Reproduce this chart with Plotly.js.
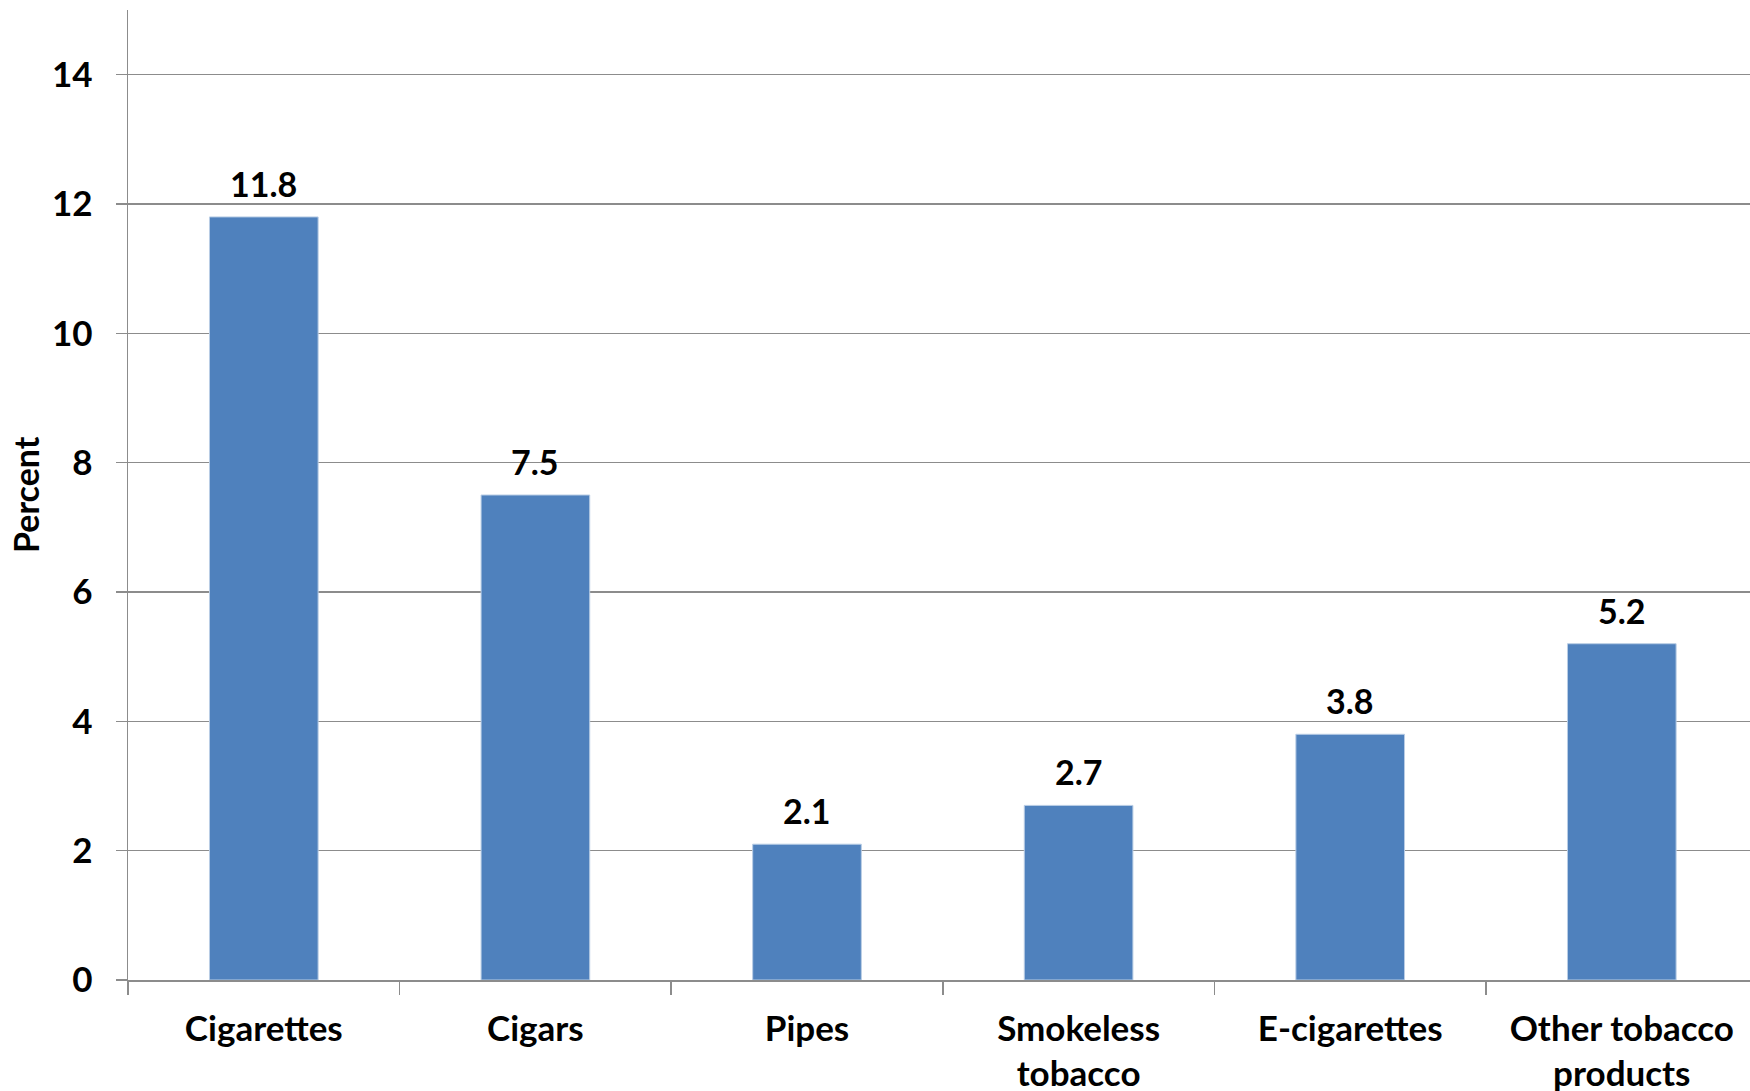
<!DOCTYPE html>
<html>
<head>
<meta charset="utf-8">
<script src="https://cdn.plot.ly/plotly-3.0.1.min.js"></script>
<style>html,body{margin:0;padding:0;background:#fff;}#chart{width:1750px;height:1091px;}</style>
</head>
<body>
<div id="chart"></div>
<script>
const categories = ["Cigarettes", "Cigars", "Pipes", "Smokeless<br>tobacco", "E-cigarettes", "Other tobacco<br>products"];
const percentValues = [11.8, 7.5, 2.1, 2.7, 3.8, 5.2];
const yTickValues = [0, 2, 4, 6, 8, 10, 12, 14];
const yAxisTitle = "Percent";

const FONT = "Lato, 'Open Sans', sans-serif";

const trace = {
  type: "bar",
  x: categories,
  y: percentValues,
  width: 0.4,
  marker: { color: "#4f81bd", line: { color: "#b9cde5", width: 1 } },
  hoverinfo: "none"
};

const annotations = categories.map((c, i) => ({
  x: c, y: percentValues[i], xref: "x", yref: "y",
  text: percentValues[i].toFixed(1),
  showarrow: false, yanchor: "bottom", xanchor: "center", yshift: 11,
  font: { family: FONT, size: 34, color: "#000", weight: 700 }
}));
annotations.push({
  xref: "paper", yref: "paper", x: 0, y: 0.5, xshift: -103,
  text: yAxisTitle, textangle: -90, showarrow: false,
  xanchor: "center", yanchor: "middle",
  font: { family: FONT, size: 34, color: "#000", weight: 700 }
});

const layout = {
  width: 1750, height: 1091,
  margin: { l: 128, r: 0, t: 10, b: 111, pad: 0 },
  paper_bgcolor: "#fff", plot_bgcolor: "#fff",
  showlegend: false,
  font: { family: FONT, color: "#000" },
  xaxis: {
    type: "category",
    range: [-0.5, 5.472],
    tickson: "boundaries", ticks: "outside", ticklen: 13, tickwidth: 1.5, tickcolor: "#8c8c8c",
    ticklabelstandoff: 17,
    showline: true, linecolor: "#8c8c8c", linewidth: 1.5,
    showgrid: false, zeroline: false,
    tickfont: { family: FONT, size: 35, color: "#000", weight: 700 },
    automargin: false, fixedrange: true
  },
  yaxis: {
    range: [0, 15],
    tickmode: "array", tickvals: yTickValues, ticktext: yTickValues.map(String),
    ticks: "outside", ticklen: 11, tickwidth: 1.5, tickcolor: "#8c8c8c",
    ticklabelstandoff: 16,
    showline: true, linecolor: "#8c8c8c", linewidth: 1.5,
    showgrid: true, gridcolor: "#8c8c8c", gridwidth: 1.5,
    zeroline: false,
    tickfont: { family: FONT, size: 35, color: "#000", weight: 700 },
    automargin: false, fixedrange: true
  },
  annotations: annotations,
  bargap: 0.6
};

Plotly.newPlot("chart", [trace], layout, { displayModeBar: false, staticPlot: true });
</script>
</body>
</html>
